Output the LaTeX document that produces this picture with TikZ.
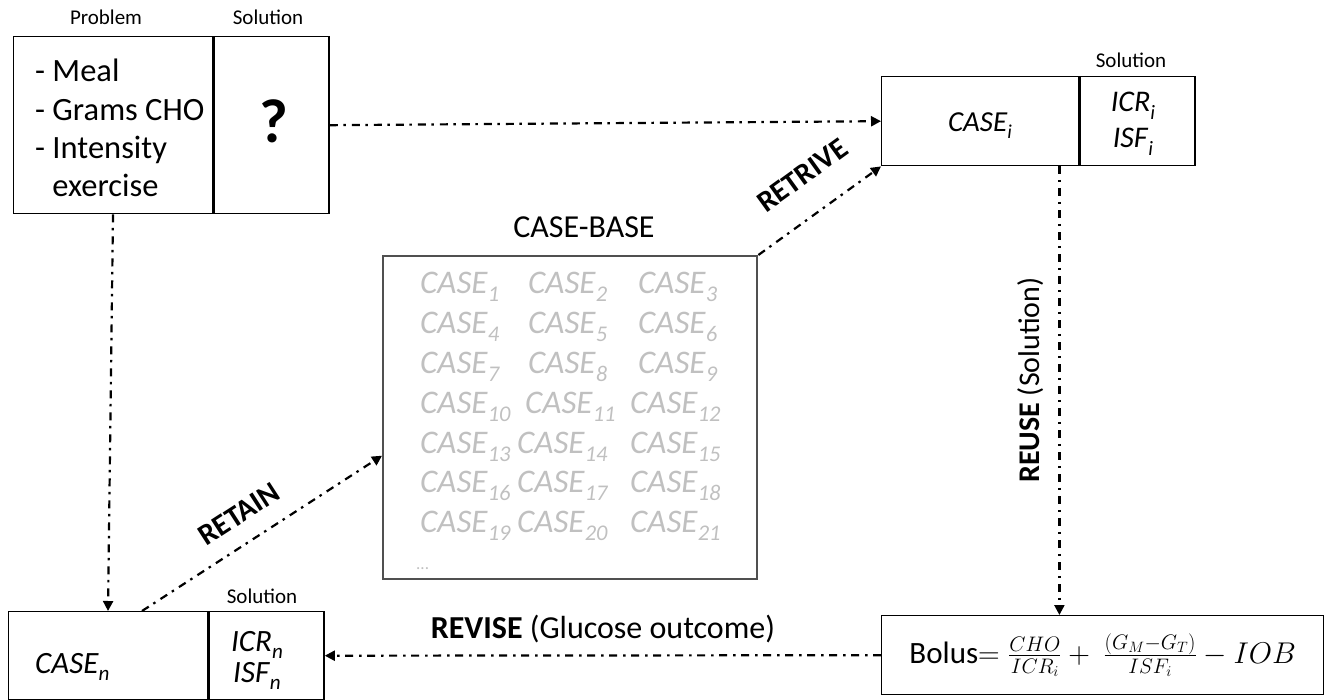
\documentclass[tikz,border=0pt]{standalone}
\usepackage{fix-cm}
\usepackage{amsmath}
\usepackage{fontspec}
\setmainfont{Carlito}
\usetikzlibrary{arrows.meta,positioning,calc}
\definecolor{casegray}{RGB}{192,192,192}
\definecolor{framegray}{RGB}{80,80,80}
\newcommand{\fsz}[1]{\fontsize{#1}{#1}\selectfont}
\newcommand{\lowsub}[1]{\raisebox{-0.24em}{\scalebox{0.68}{\textit{#1}}}}
\newcommand{\caseid}[1]{\textit{CASE}\lowsub{#1}}

\begin{document}
\begin{tikzpicture}[
    x=1pt, y=-1pt,
    cell/.style={draw, line width=1.4pt, inner sep=0pt, anchor=north west},
    flow/.style={line width=2.2pt, dash pattern=on 8pt off 5.5pt on 2.5pt off 6pt,
      -{Triangle[length=10pt,width=10pt]}},
    headtag/.style={anchor=base, inner sep=0pt, font=\fsz{21}},
    entry/.style={anchor=base, inner sep=0pt, font=\fsz{30}},
    caseitem/.style={anchor=base west, inner sep=0pt, text=casegray, font=\fsz{33}},
    phaselbl/.style={inner sep=2pt, font=\fsz{30}}
  ]
  \useasboundingbox (0,0) rectangle (1331,700);

  % new problem: description and missing solution
  \node[cell, minimum width=199pt, minimum height=177pt] (prob) at (13,36) {};
  \node[cell, minimum width=115pt, minimum height=177pt] (probsol) at (prob.north east) {};
  \node[headtag] (probhead) at (106,25) {Problem};
  \node[headtag] (probsolhead) at (268,25) {Solution};
  \foreach \txt [count=\i] in {- Meal, - Grams CHO, - Intensity, \phantom{- }exercise}
    \node[anchor=base west, inner sep=0pt, font=\fsz{32.5}] (item\i) at (35,{82+38.3*(\i-1)}) {\txt};
  \node[font=\fsz{62}\bfseries] (unknown) at ([xshift=2pt,yshift=4pt]probsol.center) {?};

  % retrieved case
  \node[cell, minimum width=197pt, minimum height=89pt] (casei) at (881,76) {};
  \node[cell, minimum width=115pt, minimum height=89pt] (caseisol) at (casei.north east) {};
  \node[headtag] (caseihead) at (1131,68) {Solution};
  \node[entry, font=\fsz{29}] (caseitxt) at (980,132) {\caseid{i}};
  \node[entry, font=\fsz{30}] (icri) at (1133,112) {\textit{ICR}\lowsub{i}};
  \node[entry, font=\fsz{30}] (isfi) at (1133,148) {\textit{ISF}\lowsub{i}};

  % case base
  \node[draw=framegray, line width=2.4pt, inner sep=0pt, anchor=north west,
    minimum width=374pt, minimum height=323pt] (cbase) at (382,255) {};
  \node[entry, font=\fsz{32}] (cbasehead) at (584,238) {CASE-BASE};
  \foreach \row/\xb/\xc in {0/528/638, 1/528/638, 2/528/638, 3/525/630,
                            4/517/630, 5/517/630, 6/517/630} {
    \pgfmathtruncatemacro{\ka}{3*\row+1}
    \pgfmathtruncatemacro{\kb}{3*\row+2}
    \pgfmathtruncatemacro{\kc}{3*\row+3}
    \node[caseitem] (c\ka) at (420,{294+39.8*\row}) {\caseid{\ka}};
    \node[caseitem] (c\kb) at (\xb,{294+39.8*\row}) {\caseid{\kb}};
    \node[caseitem] (c\kc) at (\xc,{294+39.8*\row}) {\caseid{\kc}};
  }
  \node[caseitem, font=\fsz{17}] (more) at (416,569) {...};

  % learned case
  \node[cell, minimum width=199pt, minimum height=88pt] (casen) at (8,611) {};
  \node[cell, minimum width=115pt, minimum height=88pt] (casensol) at (casen.north east) {};
  \node[headtag] (casenhead) at (262,603) {Solution};
  \node[entry, anchor=base west, font=\fsz{31}] (casentxt) at (35,673) {\caseid{n}};
  \node[entry, font=\fsz{31}] (icrn) at (257,651) {\textit{ICR}\lowsub{n}};
  \node[entry, font=\fsz{31}] (isfn) at (257,682) {\textit{ISF}\lowsub{n}};

  % bolus calculator
  \node[cell, minimum width=442pt, minimum height=79pt] (bolus) at (881,615)
    {{\fsz{31}Bolus}{\fsz{30}$=\frac{CHO}{ICR_i}+\ \frac{(G_M-G_T)}{ISF_i}-IOB$}};

  % cycle
  \draw[flow] (probsol.east) -- (casei.west);
  \draw[flow] ([xshift=100pt]prob.south west) -- ([xshift=100pt]casen.north west);
  \draw[flow] (cbase.north east) -- node[phaselbl, sloped, pos=0.545, above=26pt, font=\fsz{30}\bfseries] (retrive) {RETRIVE} (casei.south west);
  \draw[flow] ([xshift=-20pt]casei.south east) -- ([xshift=-20pt]casei.south east |- bolus.north);
  \node[phaselbl, rotate=90] (reuse) at (1031,380) {\textbf{REUSE} (Solution)};
  \draw[flow] (bolus.west) -- node[phaselbl, above=9pt, font=\fsz{32}] (revise) {\textbf{REVISE} (Glucose outcome)} (casensol.east);
  \draw[flow] ([xshift=134pt]casen.north west) -- node[phaselbl, sloped, pos=0.47, above=16pt, font=\fsz{30}\bfseries] (retain) {RETAIN} ([yshift=-38pt]cbase.west);
\end{tikzpicture}
\end{document}
